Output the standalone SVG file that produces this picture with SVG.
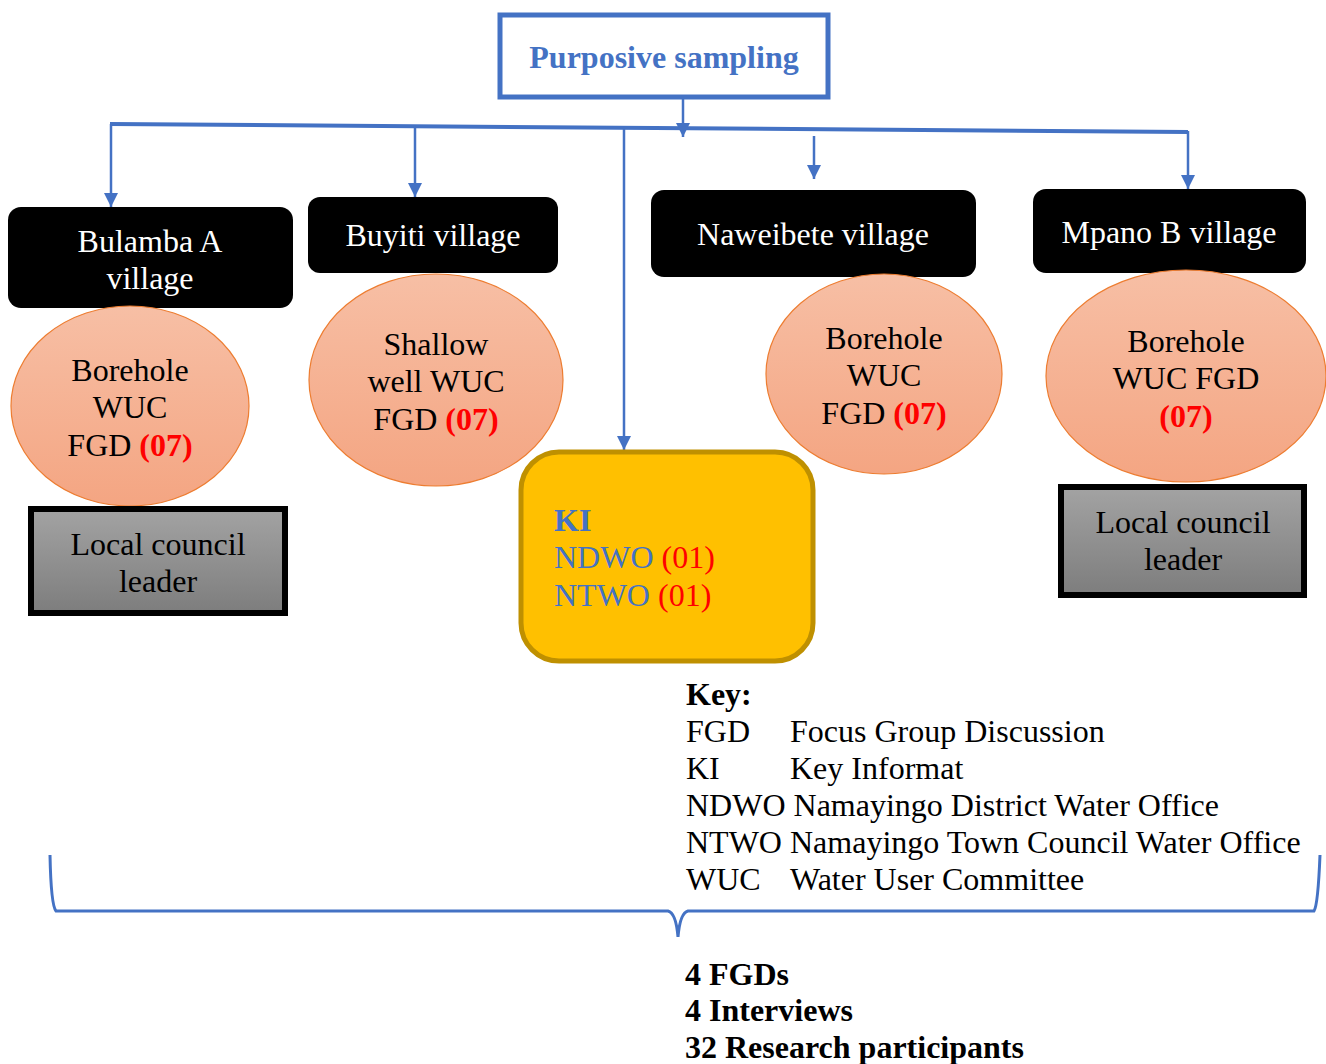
<svg xmlns="http://www.w3.org/2000/svg" width="1326" height="1064" viewBox="0 0 1326 1064">
<style>
text{font-family:"Liberation Serif","Times New Roman",serif;font-size:32px}
.w{fill:#fff}
.c{text-anchor:middle}
.r{fill:#FF0000;font-weight:bold}
.blue{fill:#4472C4}
.b{font-weight:bold}
.conn{stroke:#4472C4;fill:none}
.circ{fill:url(#sal);stroke:#ED7D31;stroke-width:1.2}
.vbox{fill:#000}
.lcl{fill:url(#gry);stroke:#000;stroke-width:6}
</style>
<defs>
<linearGradient id="sal" x1="0" y1="0" x2="0" y2="1"><stop offset="0" stop-color="#F7BFA5"/><stop offset="1" stop-color="#F4A582"/></linearGradient>
<linearGradient id="gry" x1="0" y1="0" x2="0" y2="1"><stop offset="0" stop-color="#A3A3A3"/><stop offset="1" stop-color="#7D7D7D"/></linearGradient>
<marker id="ah" markerUnits="userSpaceOnUse" markerWidth="14" markerHeight="14" refX="14" refY="7" orient="auto" viewBox="0 0 14 14"><path d="M0,0 L14,7 L0,14 z" fill="#4472C4"/></marker>
</defs>
<g id="connectors">
<line class="conn" x1="683" y1="97" x2="683" y2="137" stroke-width="2.5" marker-end="url(#ah)"/>
<line class="conn" x1="110" y1="124" x2="1188" y2="132" stroke-width="4"/>
<line class="conn" x1="111" y1="124" x2="111" y2="207" stroke-width="2.5" marker-end="url(#ah)"/>
<line class="conn" x1="415" y1="127" x2="415" y2="197" stroke-width="2.5" marker-end="url(#ah)"/>
<line class="conn" x1="624" y1="129" x2="624" y2="450" stroke-width="2.5" marker-end="url(#ah)"/>
<line class="conn" x1="814" y1="136" x2="814" y2="179" stroke-width="2.5" marker-end="url(#ah)"/>
<line class="conn" x1="1188" y1="131" x2="1188" y2="189" stroke-width="2.5" marker-end="url(#ah)"/>
<path class="conn" stroke-width="3" d="M50,855 Q51,905 56,911 L668,911 Q676,913 678,937 Q680,913 688,911 L1314,911 Q1318,905 1320,855"/>
</g>
<g id="purposive">
<rect x="500" y="15" width="328" height="82" fill="#fff" stroke="#4472C4" stroke-width="5"/>
<text x="664" y="68" class="c b blue">Purposive sampling</text>
</g>
<g id="bulamba">
<rect class="vbox" x="8" y="207" width="285" height="101" rx="13"/>
<text x="150" y="252" class="c w">Bulamba A</text>
<text x="150" y="289" class="c w">village</text>
</g>
<g id="buyiti">
<rect class="vbox" x="308" y="197" width="250" height="76" rx="12"/>
<text x="433" y="246" class="c w">Buyiti village</text>
</g>
<g id="naweibete">
<rect class="vbox" x="651" y="190" width="325" height="87" rx="13"/>
<text x="813" y="245" class="c w">Naweibete village</text>
</g>
<g id="mpano">
<rect class="vbox" x="1033" y="189" width="273" height="84" rx="13"/>
<text x="1169" y="243" class="c w">Mpano B village</text>
</g>
<g id="fgd1">
<ellipse class="circ" cx="130" cy="406" rx="119" ry="100"/>
<text x="130" y="381" class="c">Borehole</text>
<text x="130" y="418" class="c">WUC</text>
<text x="130" y="456" class="c">FGD <tspan class="r">(07)</tspan></text>
</g>
<g id="fgd2">
<ellipse class="circ" cx="436" cy="380" rx="127" ry="106"/>
<text x="436" y="355" class="c">Shallow</text>
<text x="436" y="392" class="c">well WUC</text>
<text x="436" y="430" class="c">FGD <tspan class="r">(07)</tspan></text>
</g>
<g id="fgd3">
<ellipse class="circ" cx="884" cy="374" rx="118" ry="100"/>
<text x="884" y="349" class="c">Borehole</text>
<text x="884" y="386" class="c">WUC</text>
<text x="884" y="424" class="c">FGD <tspan class="r">(07)</tspan></text>
</g>
<g id="fgd4">
<ellipse class="circ" cx="1186" cy="376" rx="140" ry="106"/>
<text x="1186" y="352" class="c">Borehole</text>
<text x="1186" y="389" class="c">WUC FGD</text>
<text x="1186" y="427" class="c r">(07)</text>
</g>
<g id="lcl1">
<rect class="lcl" x="31" y="509" width="254" height="104"/>
<text x="158" y="555" class="c">Local council</text>
<text x="158" y="592" class="c">leader</text>
</g>
<g id="lcl2">
<rect class="lcl" x="1061" y="487" width="243" height="108"/>
<text x="1183" y="533" class="c">Local council</text>
<text x="1183" y="570" class="c">leader</text>
</g>
<g id="ki">
<rect x="521" y="452" width="292" height="209" rx="38" fill="#FFC000" stroke="#BF9000" stroke-width="5"/>
<text x="554" y="531" class="b blue">KI</text>
<text x="554" y="568" class="blue">NDWO <tspan fill="#FF0000">(01)</tspan></text>
<text x="554" y="606" class="blue">NTWO <tspan fill="#FF0000">(01)</tspan></text>
</g>
<g id="key">
<text x="686" y="705" class="b">Key:</text>
<text x="686" y="742">FGD</text><text x="790" y="742">Focus Group Discussion</text>
<text x="686" y="779">KI</text><text x="790" y="779">Key Informat</text>
<text x="686" y="816">NDWO Namayingo District Water Office</text>
<text x="686" y="853">NTWO Namayingo Town Council Water Office</text>
<text x="686" y="890">WUC</text><text x="790" y="890">Water User Committee</text>
</g>
<g id="summary">
<text x="685" y="985" class="b">4 FGDs</text>
<text x="685" y="1021" class="b">4 Interviews</text>
<text x="685" y="1058" class="b">32 Research participants</text>
</g>
</svg>
